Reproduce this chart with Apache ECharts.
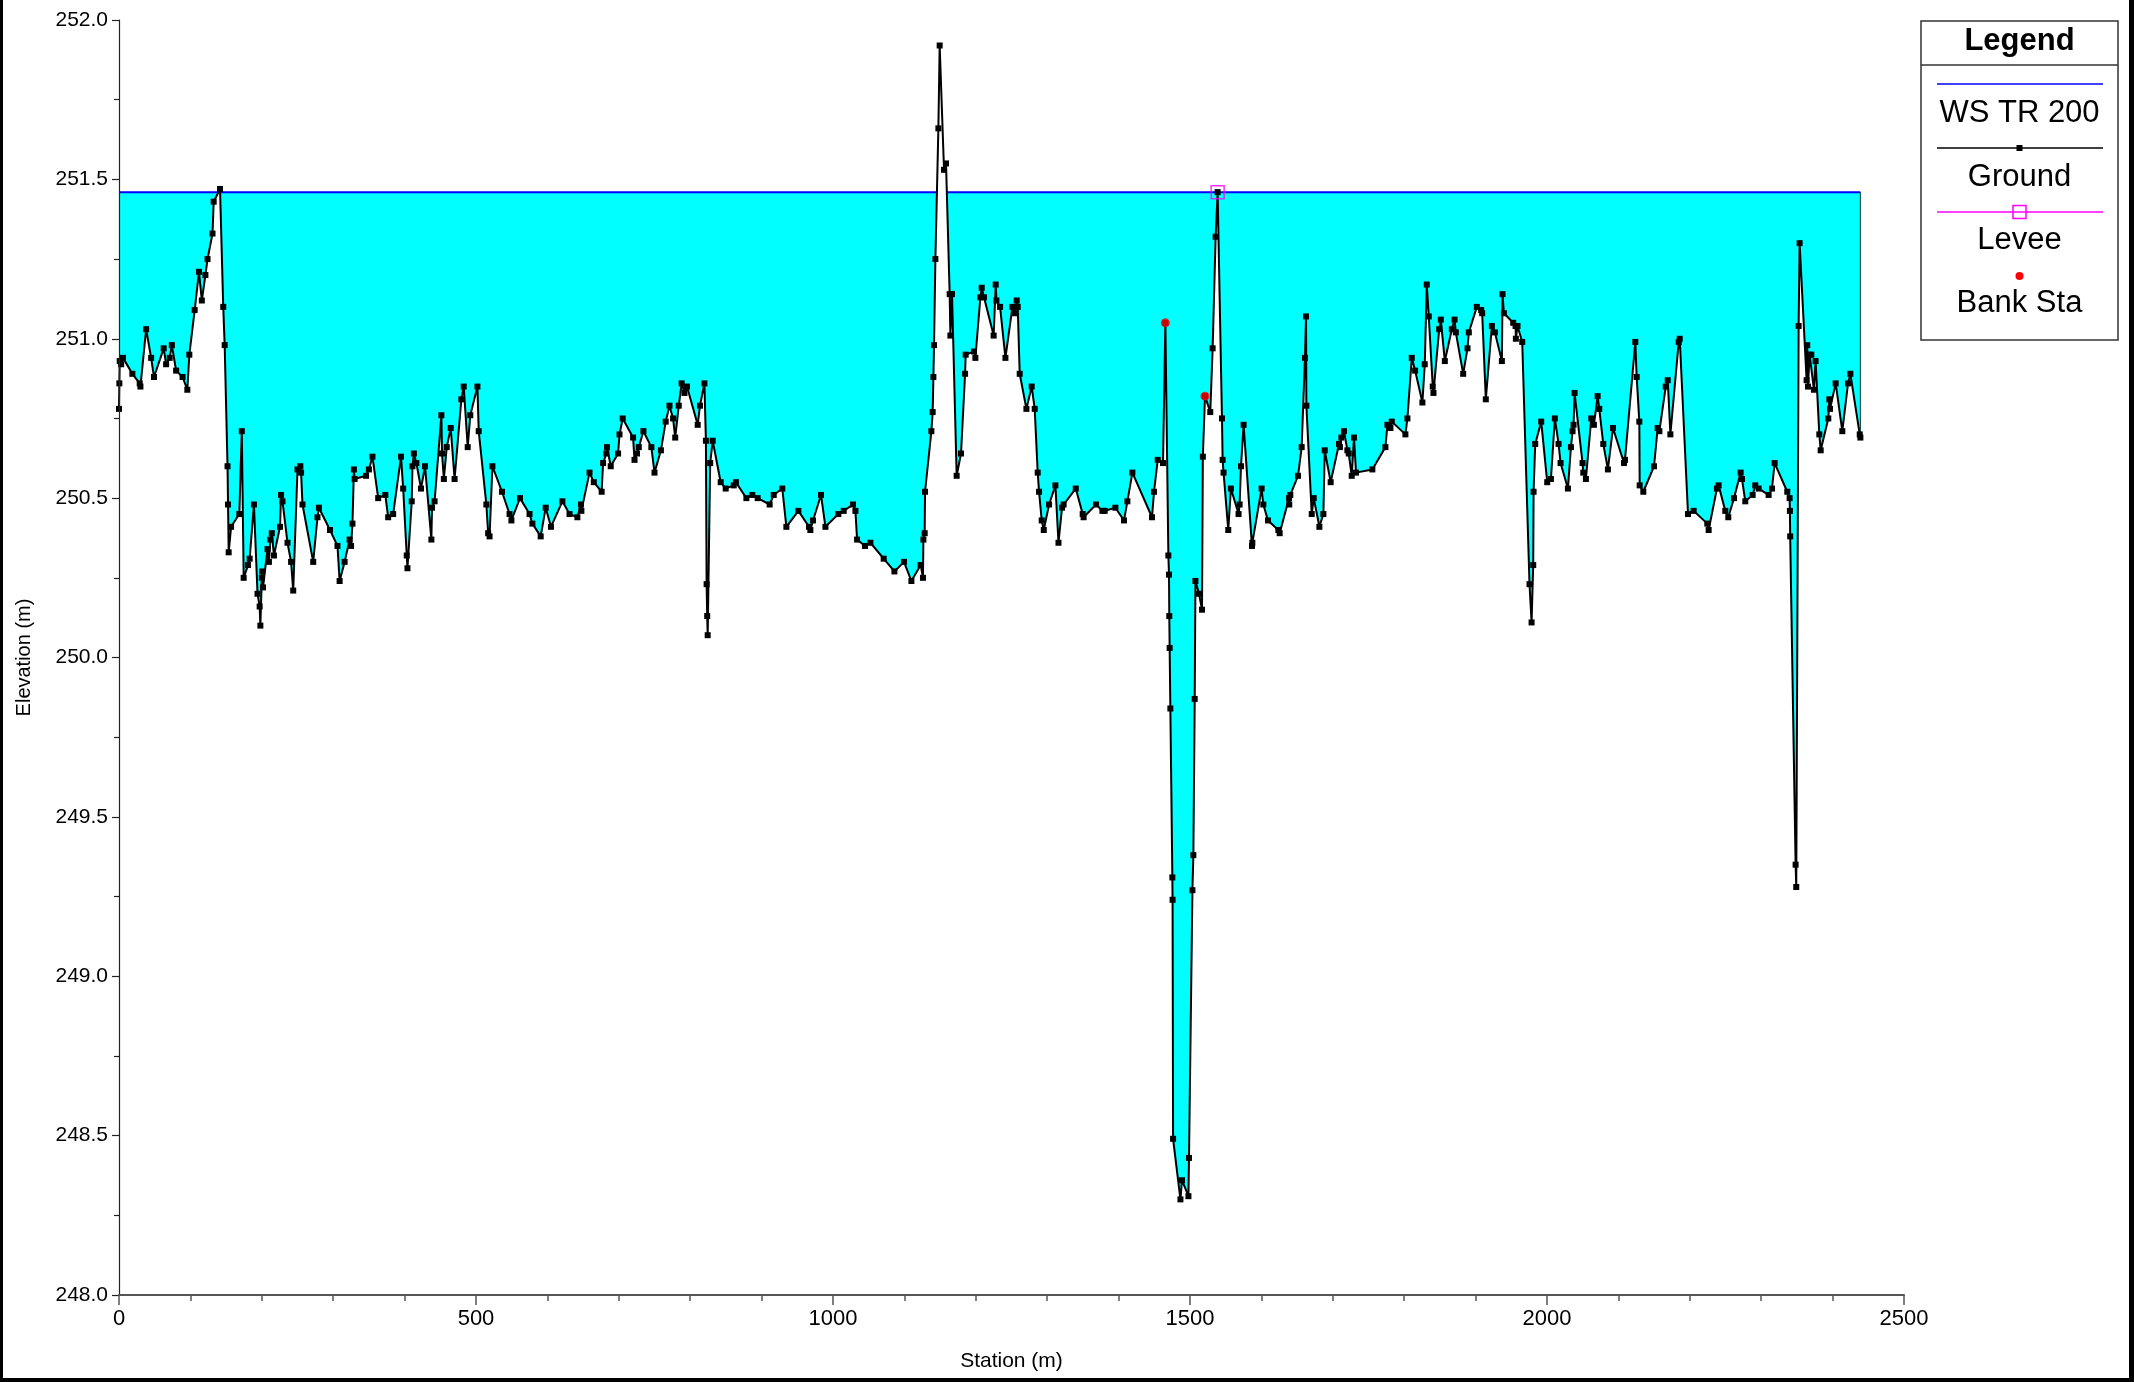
<!DOCTYPE html>
<html><head><meta charset="utf-8">
<script src="https://cdn.jsdelivr.net/npm/echarts@6/dist/echarts.min.js"></script>
<style>html,body{margin:0;padding:0;background:#fff}#c{width:2134px;height:1382px}</style>
</head><body><div id="c"></div>
<script>
// ---- data ----
const wsName = 'WS TR 200';
const wsElevation = 251.46;
const groundSurvey = [
[0,250.78],[0.5,250.86],[1,250.93],[3,250.92],[5.6,250.94],[18.7,250.89],[29,250.86],[30,250.85],[38,251.03],[45,250.94],[49,250.88],[62.6,250.97],[66,250.92],[71,250.94],[74,250.98],[80,250.90],[89,250.88],[95.7,250.84],[98.5,250.95],[106,251.09],[112,251.21],[116,251.12],[121,251.20],[124,251.25],[131,251.33],[132.6,251.43],[141.5,251.47],[146,251.10],[148,250.98],[152,250.60],[152.7,250.48],[153.6,250.33],[157,250.41],[168.5,250.45],[172,250.71],[174.6,250.25],[180.7,250.29],[183,250.31],[189,250.48],[194,250.20],[197,250.16],[198,250.10],[200,250.25],[200.5,250.27],[201.7,250.22],[208,250.34],[210,250.30],[212,250.37],[214,250.39],[217,250.32],[225.5,250.41],[227,250.51],[229,250.49],[236,250.36],[241,250.30],[244,250.21],[250,250.59],[254,250.60],[255,250.58],[257,250.48],[272,250.30],[278,250.44],[280,250.47],[295.5,250.40],[306,250.35],[309,250.24],[316,250.30],[323,250.37],[325,250.35],[327,250.42],[329,250.59],[330,250.56],[346,250.57],[350,250.59],[355,250.63],[363,250.50],[373,250.51],[377,250.44],[384,250.45],[395,250.63],[398,250.53],[403,250.32],[404,250.28],[410,250.49],[411,250.60],[413,250.64],[416.5,250.61],[423,250.53],[428.6,250.60],
[437.5,250.37],[438.4,250.47],[442,250.49],[451.5,250.76],[452.4,250.64],[455,250.56],[459,250.66],[464.6,250.72],[470,250.56],[479.5,250.81],[482.8,250.85],[488.4,250.66],[492,250.76],[502,250.85],[503.8,250.71],[514.5,250.48],[517,250.39],[519,250.38],[523,250.60],[536.4,250.52],[547,250.45],[549.6,250.43],[561.6,250.50],[575,250.45],[579,250.42],[590.6,250.38],[597.6,250.47],[605,250.41],[621,250.49],[631,250.45],[642,250.44],[647,250.48],[647.6,250.46],[659,250.58],[665,250.55],[676,250.52],[678,250.61],[682.6,250.64],[683.5,250.66],[688.7,250.60],[699,250.64],[701,250.70],[705.5,250.75],[720,250.69],[722,250.62],[725.5,250.64],[728,250.66],[734.5,250.71],[745.6,250.66],[750,250.58],[759,250.65],[765.7,250.74],[771,250.79],[776,250.75],[779,250.69],[784,250.79],[788,250.86],[792,250.83],[795.5,250.85],[810.5,250.73],[813.7,250.79],[819.9,250.86],[822,250.68],[823,250.23],[823.8,250.13],[824.5,250.07],[828,250.61],[831.5,250.68],[842.7,250.55],[849.7,250.53],[861,250.54],[864,250.55],
[878.7,250.50],[887,250.51],[894.5,250.50],[911.3,250.48],[917,250.51],[929,250.53],[934.7,250.41],[951.5,250.46],[966.4,250.41],[968.3,250.40],[972,250.43],[983.2,250.51],[989.4,250.41],[1007.5,250.45],[1015,250.46],[1028,250.48],[1031.4,250.46],[1033.7,250.37],[1044.8,250.35],[1052.4,250.36],[1071,250.31],[1086,250.27],[1099.4,250.30],[1109.8,250.24],[1122.8,250.29],[1126,250.25],[1126.6,250.37],[1128.4,250.39],[1128.9,250.52],[1137.8,250.71],[1139.6,250.77],[1140.6,250.88],[1141.5,250.98],[1143.4,251.25],[1147.6,251.66],[1149.4,251.92],[1155.5,251.53],[1158.3,251.55],[1163.4,251.14],[1164.4,251.01],[1166.7,251.14],[1173.2,250.57],[1179.3,250.64],[1185,250.89],[1185.8,250.95],[1197.5,250.96],[1199.4,250.94],[1206.4,251.13],[1208.3,251.16],[1211.5,251.13],[1225,251.01],[1227.9,251.17],[1228.9,251.12],[1234,251.10],[1241.5,250.94],[1251.3,251.10],[1255,251.08],[1257.3,251.12],[1258.7,251.10],[1261.5,250.89],[1270.9,250.78],[1278.3,250.85],[1282.5,250.78],[1286.7,250.58],[1288.6,250.52],[1292.3,250.43],[1295.2,250.40],[1302.6,250.48],[1311.5,250.54],[1315.8,250.36],
[1320.8,250.47],[1323,250.48],[1340,250.53],[1349.7,250.45],[1351,250.44],[1368.4,250.48],[1377.3,250.46],[1380.5,250.46],[1395.5,250.47],[1407.6,250.43],[1412.3,250.49],[1419.3,250.58],[1446.8,250.44],[1449.6,250.52],[1454.8,250.62],[1462.2,250.61],[1465.5,251.05],[1469.7,250.32],
[1470.6,250.26],[1471,250.13],[1471.5,250.03],[1472.5,249.84],[1475.3,249.31],[1475.6,249.24],[1476.3,248.49],[1486.6,248.30],[1488.8,248.36],[1497.8,248.31],[1498.6,248.43],[1503.4,249.27],[1504.7,249.38],[1506.6,249.87],[1507.6,250.24],[1512.6,250.20],[1516.8,250.15],
[1518,250.63],[1521,250.82],[1528.4,250.77],[1531.7,250.97],[1535.9,251.32],[1538.7,251.46],[1544.8,250.75],[1545.7,250.62],[1547,250.58],[1553.6,250.40],[1557.3,250.53],[1568,250.45],[1569.5,250.48],[1571.4,250.60],[1575.1,250.73],[1586.8,250.35],[1587.3,250.36],[1600.3,250.53],[1602.7,250.48],[1609.2,250.43],[1623.7,250.40],[1625.6,250.39],[1638.6,250.50],[1639,250.48],[1640.5,250.51],[1651.3,250.57],[1656.4,250.66],[1661,250.94],[1662.5,251.07],[1663,250.79],[1670.5,250.45],[1673.3,250.50],[1681.2,250.41],[1686.8,250.45],[1688.7,250.65],[1697,250.55],[1708.7,250.67],[1710,250.66],[1712,250.69],[1715.7,250.71],[1720.4,250.65],[1722.3,250.64],[1726.5,250.57],[1729.7,250.69],[1732.5,250.58],[1755.4,250.59],
[1773.7,250.66],[1776.5,250.73],[1780.7,250.72],[1782.6,250.74],[1801.7,250.70],[1804.5,250.75],[1810.6,250.94],[1815.3,250.90],[1825.5,250.80],[1828.8,250.92],[1831.6,251.17],[1834.4,251.07],[1840,250.85],[1841,250.83],[1849,251.03],[1851.3,251.06],[1856.9,250.93],[1866.7,251.03],[1870.5,251.06],[1872.3,251.02],[1882.6,250.89],[1888.7,250.97],[1890.5,251.02],[1901.7,251.10],[1907.8,251.09],[1909.2,251.08],[1914.3,250.81],[1922.8,251.04],[1927,251.02],[1936.8,250.93],[1937.7,251.14],[1939.6,251.08],[1952.7,251.05],[1956,251.04],[1956.4,251.00],[1958.7,251.04],[1965.3,250.99],[1975.5,250.23],[1978.4,250.11],[1980.7,250.29],[1981.2,250.52],[1983.5,250.67],[1991.9,250.74],[2000.3,250.55],[2005.5,250.56],[2011,250.75],[2016.2,250.67],[2019,250.61],[2029.3,250.53],[2033.5,250.66],[2035.8,250.71],[2037.2,250.73],[2038.6,250.83],[2049.8,250.61],[2050.8,250.58],[2054.5,250.56],[2062,250.75],[2065.7,250.73],[2070.9,250.82],[2073.2,250.78],[2078.8,250.67],[2085.3,250.59],[2092.4,250.72],[2107.8,250.61],[2109.2,250.62],[2123.7,250.99],[2125.6,250.88],[2129.3,250.74],[2129.8,250.54],[2134.9,250.52],[2149.9,250.60],[2155,250.72],[2157.4,250.71],[2166.3,250.85],[2169.1,250.87],[2172.8,250.70],[2184.5,250.99],[2185.9,251.00],[2197.5,250.45],
[2205.4,250.46],[2224.5,250.42],[2226.4,250.40],[2238,250.53],[2240.4,250.54],[2249.7,250.46],[2253.9,250.44],[2261.9,250.50],[2271.2,250.58],[2273.1,250.56],[2277.7,250.49],[2288,250.51],[2291.7,250.54],[2296.4,250.53],[2310.4,250.51],[2315.1,250.53],[2318.8,250.61],[2336.5,250.52],[2339.8,250.50],[2340.2,250.46],[2340.6,250.38],[2348.2,249.35],[2349.1,249.28],[2352.4,251.04],[2353.8,251.30],[2363.6,250.87],[2364.5,250.98],[2365.5,250.85],[2367.8,250.95],[2370.2,250.95],[2373.9,250.84],[2376.2,250.93],[2381.4,250.70],[2383.3,250.65],[2394,250.75],[2395.4,250.81],[2396.4,250.78],[2404.3,250.86],[2413.6,250.71],[2421.6,250.86],[2424.9,250.89],[2438,250.70],[2438.9,250.69]
];
const leveeStation = [1538.7];
const leveeElevation = [251.46];
const bankStation = [1465.5, 1521];
const bankElevation = [251.05, 250.82];
const legendLabels = ['WS TR 200', 'Ground', 'Levee', 'Bank Sta'];
const xRange = [0, 2500, 500];
const yRange = [248, 252, 0.5];

// ---- chart ----
const FONT = "'Liberation Sans', Arial, sans-serif";
const firstSta = groundSurvey[0][0];
const last = groundSurvey[groundSurvey.length - 1];
const chart = echarts.init(document.getElementById('c'), null, {renderer: 'canvas'});

const legendX0 = 1921, legendX1 = 2118, legendCx = (legendX0 + legendX1) / 2;
const lineX0 = 1937, lineX1 = 2103;
const hline = (y, color) => ({type: 'line', z: 100, shape: {x1: lineX0, y1: y, x2: lineX1, y2: y},
  style: {stroke: color, lineWidth: 1.5}});
const ltext = (t, y, bold) => ({type: 'text', z: 100, style: {text: t, x: legendCx, y: y,
  textAlign: 'center', textVerticalAlign: 'middle', font: (bold ? 'bold ' : '') + '31px ' + FONT, fill: '#000'}});

const graphics = [
  {type: 'rect', z: 99, shape: {x: legendX0, y: 21, width: legendX1 - legendX0, height: 319},
   style: {fill: '#fff', stroke: '#333', lineWidth: 1.5}},
  {type: 'line', z: 100, shape: {x1: legendX0, y1: 65, x2: legendX1, y2: 65}, style: {stroke: '#333', lineWidth: 1.5}},
  ltext('Legend', 41, true),
  hline(84, '#0000ff'),
  ltext(legendLabels[0], 113),
  hline(148, '#000'),
  {type: 'rect', z: 101, shape: {x: legendCx - 3, y: 145, width: 6, height: 6}, style: {fill: '#000'}},
  ltext(legendLabels[1], 177),
  hline(212, '#ff00ff'),
  {type: 'rect', z: 101, shape: {x: legendCx - 6.5, y: 205.5, width: 13, height: 13}, style: {fill: 'rgba(0,0,0,0)', stroke: '#ff00ff', lineWidth: 1.5}},
  ltext(legendLabels[2], 240),
  {type: 'circle', z: 101, shape: {cx: legendCx, cy: 276, r: 4}, style: {fill: '#ff0000'}},
  ltext(legendLabels[3], 303),
  // outer frame
  {type: 'rect', z: 100, shape: {x: 0, y: 0, width: 3, height: 1382}, style: {fill: '#000'}},
  {type: 'rect', z: 100, shape: {x: 2129, y: 0, width: 5, height: 1382}, style: {fill: '#000'}},
  {type: 'rect', z: 100, shape: {x: 0, y: 1378, width: 2134, height: 4}, style: {fill: '#000'}}
];

const axisColor = '#555';
chart.setOption({
  animation: false,
  backgroundColor: '#fff',
  grid: {left: 119, right: 230, top: 20, bottom: 87, containLabel: false},
  xAxis: {
    type: 'value', min: xRange[0], max: xRange[1], interval: xRange[2], z: 10,
    name: 'Station (m)', nameLocation: 'middle', nameGap: 56,
    nameTextStyle: {fontSize: 21, color: '#000', fontFamily: FONT},
    axisLine: {show: true, onZero: false, lineStyle: {color: axisColor, width: 2}},
    axisTick: {show: true, length: 10, lineStyle: {color: axisColor, width: 1.5}},
    minorTick: {show: true, splitNumber: 5, length: 6, lineStyle: {color: axisColor, width: 1.5}},
    axisLabel: {fontSize: 22, color: '#000', fontFamily: FONT, margin: 13, formatter: v => String(v)},
    splitLine: {show: false}, minorSplitLine: {show: false}
  },
  yAxis: {
    type: 'value', min: yRange[0], max: yRange[1], interval: yRange[2], z: 10,
    name: 'Elevation (m)', nameLocation: 'middle', nameGap: 85, nameRotate: 90,
    nameTextStyle: {fontSize: 20, color: '#000', fontFamily: FONT},
    axisLine: {show: true, onZero: false, lineStyle: {color: '#222', width: 1.2}},
    axisTick: {show: true, length: 7, lineStyle: {color: '#222', width: 1.2}},
    minorTick: {show: true, splitNumber: 2, length: 5, lineStyle: {color: '#222', width: 1.2}},
    axisLabel: {fontSize: 21, color: '#000', fontFamily: FONT, margin: 11, formatter: v => v.toFixed(1)},
    splitLine: {show: false}, minorSplitLine: {show: false}
  },
  series: [
    {name: wsName, type: 'line', z: 2, symbol: 'none', silent: true,
     data: [[firstSta, wsElevation], [last[0], wsElevation]],
     lineStyle: {color: '#0000ff', width: 2},
     areaStyle: {color: '#00ffff', opacity: 1, origin: 'start'}},
    {name: 'mask', type: 'line', z: 3, symbol: 'none', silent: true,
     data: [[last[0], yRange[0]], [last[0], last[1]]],
     lineStyle: {color: '#ffffff', width: 3}},
    {name: 'Ground', type: 'line', z: 3, symbol: 'rect', symbolSize: 6, showAllSymbol: true, silent: true,
     data: groundSurvey,
     lineStyle: {color: '#000', width: 2},
     itemStyle: {color: '#000'},
     areaStyle: {color: '#ffffff', opacity: 1, origin: 'start'}},
    {name: 'edge', type: 'line', z: 3, symbol: 'none', silent: true,
     data: [[last[0], last[1]], [last[0], wsElevation]],
     lineStyle: {color: '#003838', width: 1}},
    {name: 'Levee', type: 'scatter', z: 5, symbol: 'rect', symbolSize: 13, silent: true,
     data: leveeStation.map((s, i) => [s, leveeElevation[i]]),
     itemStyle: {color: 'rgba(0,0,0,0)', borderColor: '#ff00ff', borderWidth: 1.5}},
    {name: 'Bank Sta', type: 'scatter', z: 5, symbol: 'circle', symbolSize: 9, silent: true,
     data: bankStation.map((s, i) => [s, bankElevation[i]]),
     itemStyle: {color: '#ff0000'}}
  ],
  graphic: graphics
});
</script>
</body></html>
